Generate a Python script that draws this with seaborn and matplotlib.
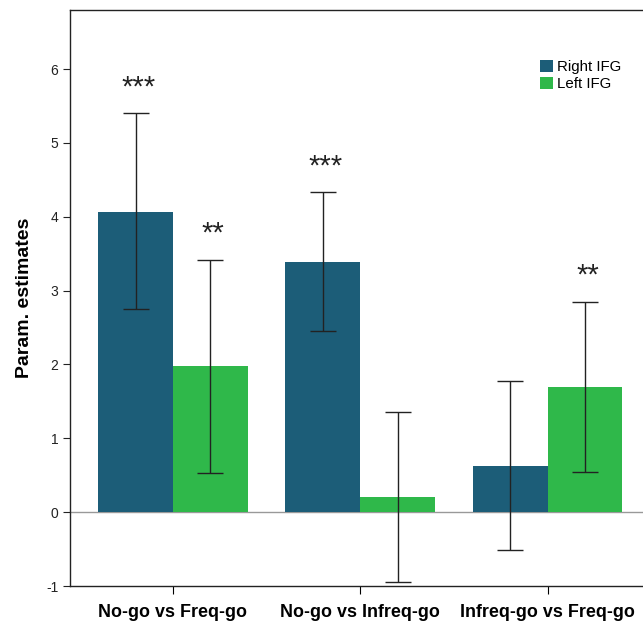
import seaborn as sns
import matplotlib.pyplot as plt
import pandas as pd

contrastes = ["No-go vs Freq-go", "No-go vs Infreq-go", "Infreq-go vs Freq-go"]
regiones = ["Right IFG", "Left IFG"]
right_ifg = [4.07, 3.39, 0.63]
left_ifg = [1.98, 0.20, 1.70]
right_low = [2.75, 2.45, -0.51]
right_high = [5.40, 4.33, 1.78]
left_low = [0.53, -0.95, 0.55]
left_high = [3.42, 1.35, 2.85]
right_sig = ["***", "***", ""]
left_sig = ["**", "", "**"]

colors = ["#1c5d78", "#2fb84a"]

df = pd.DataFrame({
    "contraste": contrastes * 2,
    "region": [regiones[0]] * 3 + [regiones[1]] * 3,
    "valor": right_ifg + left_ifg,
})

plt.rcParams['font.family'] = ['Liberation Sans', 'DejaVu Sans']
plt.rcParams['axes.unicode_minus'] = False
fig = plt.figure(figsize=(6.43, 6.21), dpi=100)
ax = fig.add_axes([70 / 643, 35 / 621, 573 / 643, 576 / 621])

sns.barplot(data=df, x="contraste", y="valor", hue="region", palette=colors,
            errorbar=None, width=0.8, saturation=1, ax=ax, linewidth=0)

ax.axhline(0, color="#999999", lw=1, zorder=0.5)

lows = [right_low, left_low]
highs = [right_high, left_high]
sigs = [right_sig, left_sig]
vals = [right_ifg, left_ifg]
barras = list(ax.containers)[:2]
for k, cont in enumerate(barras):
    for i, bar in enumerate(list(cont)):
        xc = bar.get_x() + bar.get_width() / 2
        v = vals[k][i]
        ax.errorbar(xc, v, yerr=[[v - lows[k][i]], [highs[k][i] - v]],
                    fmt="none", ecolor="#222222", elinewidth=1, capsize=9.5,
                    capthick=1, zorder=3)
        if sigs[k][i]:
            ax.text(xc + 0.015, highs[k][i] + 0.35, sigs[k][i], ha="center", va="center",
                    fontsize=21, color="#222222")

ax.set_xlim(-0.55, 2.51)
ax.set_ylim(-1, 6.8)
ax.set_yticks(range(-1, 7))
ax.tick_params(axis="y", labelsize=10, colors="#222222", length=5, direction="out")
ax.tick_params(axis="x", length=6, direction="out", pad=7)
for lab in ax.get_xticklabels():
    lab.set_fontweight("bold")
    lab.set_fontsize(12.9)
ax.set_xlabel("")
ax.set_ylabel("Param. estimates", fontsize=14, fontweight="bold", labelpad=9)
for s in ["left", "bottom", "top"]:
    ax.spines[s].set_color("#222222")
    ax.spines[s].set_linewidth(1)
ax.spines["right"].set_visible(False)

ax.legend(loc="upper left", bbox_to_anchor=(0.820, 0.913), frameon=False,
          fontsize=10.8, handlelength=0.85, handleheight=0.85, handletextpad=0.3,
          labelspacing=0.2, borderpad=0, borderaxespad=0)

plt.savefig("out.png", dpi=100)
